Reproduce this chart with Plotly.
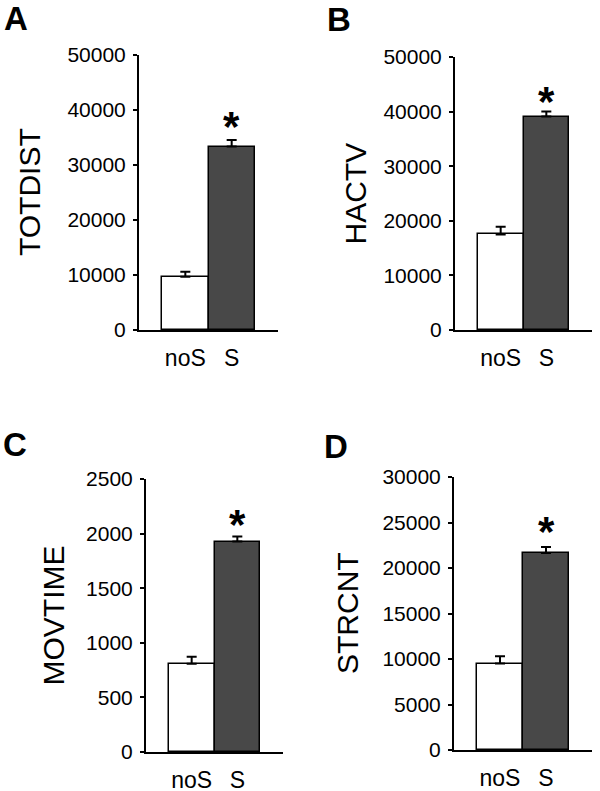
import plotly.graph_objects as go

W, H = 600, 791
FONT = "Arial, Liberation Sans, sans-serif"

categories = ["noS", "S"]
panel_letters = ["A", "B", "C", "D"]
titles = ["TOTDIST", "HACTV", "MOVTIME", "STRCNT"]
means = [
    [9700, 33350],
    [17500, 39100],
    [808, 1927],
    [9500, 21650],
]
sems = [
    [900, 1200],
    [1400, 900],
    [64, 46],
    [800, 650],
]
ymax = [50000, 50000, 2500, 30000]
ydtick = [10000, 10000, 500, 5000]
bar_colors = ["#ffffff", "#484848"]

# layout in pixels: (left, right, top, bottom)
boxes = [
    (139, 278, 55, 330),
    (455, 592, 57, 330),
    (146, 283, 479, 752),
    (454, 592, 477, 750),
]
title_x = [29.5, 355, 53, 347.5]
letter_pos = [(16, 18), (339, 19), (15, 445), (336, 446)]
star_shift = [12, 9, 11, 14]

fig = go.Figure()
annotations = []
for i in range(4):
    l, r, t, b = boxes[i]
    xa = "x" if i == 0 else f"x{i+1}"
    ya = "y" if i == 0 else f"y{i+1}"
    fig.add_trace(go.Bar(
        x=[0, 1], y=means[i], width=1,
        marker=dict(color=bar_colors, line=dict(color="black", width=1.5)),
        error_y=dict(type="data", symmetric=False, array=sems[i],
                     arrayminus=[0, 0], color="black", thickness=2, width=5),
        xaxis=xa, yaxis=ya, showlegend=False, hoverinfo="skip",
    ))
    xkey = "xaxis" if i == 0 else f"xaxis{i+1}"
    ykey = "yaxis" if i == 0 else f"yaxis{i+1}"
    fig.update_layout(**{
        xkey: dict(domain=[l / W, r / W], anchor=ya, range=[-1, 2],
                   tickvals=[0, 1], ticktext=categories, ticks="",
                   ticklabelstandoff=6,
                   showline=True, linecolor="black", linewidth=2,
                   showgrid=False, zeroline=False, fixedrange=True,
                   tickfont=dict(family=FONT, size=23, color="black")),
        ykey: dict(domain=[1 - b / H, 1 - t / H], anchor=xa,
                   range=[0, ymax[i]], dtick=ydtick[i], tickformat="d",
                   ticks="outside", ticklen=4, tickwidth=2, tickcolor="black",
                   ticklabelstandoff=3,
                   showline=True, linecolor="black", linewidth=2,
                   showgrid=False, zeroline=False, fixedrange=True,
                   tickfont=dict(family=FONT, size=21, color="black")),
    })
    annotations.append(dict(
        text=titles[i], textangle=-90, xref="paper", yref="paper",
        x=title_x[i] / W, y=1 - (t + b) / 2 / H, xanchor="center", yanchor="middle",
        showarrow=False, font=dict(family=FONT, size=30, color="black")))
    lx, ly = letter_pos[i]
    annotations.append(dict(
        text=f"<b>{panel_letters[i]}</b>", xref="paper", yref="paper",
        x=lx / W, y=1 - ly / H, xanchor="center", yanchor="middle",
        showarrow=False, font=dict(family=FONT, size=33, color="black")))
    annotations.append(dict(
        text="<b>*</b>", xref=xa, yref=ya, x=1, y=means[i][1] + sems[i][1],
        xanchor="center", yanchor="bottom", yshift=star_shift[i] - 24,
        showarrow=False, font=dict(family=FONT, size=42, color="black")))

fig.update_layout(width=W, height=H,
                  margin=dict(l=0, r=0, t=0, b=0, autoexpand=False),
                  paper_bgcolor="white", plot_bgcolor="white",
                  annotations=annotations, bargap=0)
fig.write_html("out.html", config={"displayModeBar": False},
               post_script="document.body.style.margin='0';document.body.style.padding='0';")
